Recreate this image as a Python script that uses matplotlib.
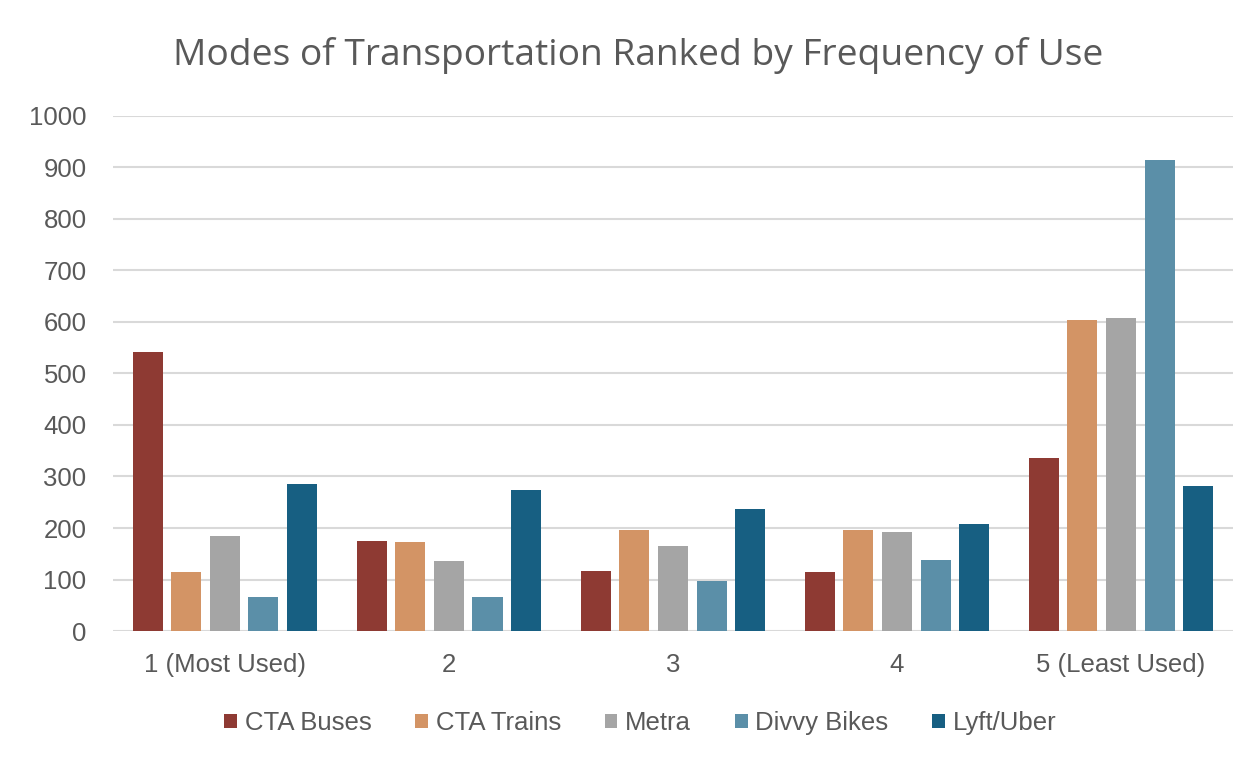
import matplotlib.pyplot as plt
import numpy as np

categories = ["1 (Most Used)", "2", "3", "4", "5 (Least Used)"]
series_names = ["CTA Buses", "CTA Trains", "Metra", "Divvy Bikes", "Lyft/Uber"]
cta_buses = [542, 175, 117, 115, 336]
cta_trains = [114, 173, 196, 197, 604]
metra = [184, 135, 165, 192, 607]
divvy_bikes = [67, 67, 97, 138, 915]
lyft_uber = [286, 274, 236, 208, 281]
colors = ["#8E3A33", "#D39465", "#A5A5A5", "#5B8FA8", "#175F82"]

values = [cta_buses, cta_trains, metra, divvy_bikes, lyft_uber]
text_color = "#595959"

fig = plt.figure(figsize=(12.48, 7.67), dpi=100)
ax = fig.add_axes([0.0905, 0.1773, 0.8975, 0.6715])

x = np.arange(len(categories))
step = 0.172
width = 0.134
for i, (name, vals, c) in enumerate(zip(series_names, values, colors)):
    ax.bar(x + (i - 2) * step, vals, width=width, color=c, label=name, zorder=3)

ax.set_xlim(-0.5, len(categories) - 0.5)
ax.set_ylim(0, 1000)
ax.set_yticks(range(0, 1001, 100))
ax.set_xticks(x)
ax.set_xticklabels(categories)
ax.grid(axis="y", color="#D9D9D9", linewidth=1.5, zorder=0)
for s in ax.spines.values():
    s.set_visible(False)
ax.tick_params(axis="both", length=0, labelsize=18.5, labelcolor=text_color)
ax.tick_params(axis="y", pad=19)
ax.tick_params(axis="x", pad=16)
for lab in ax.get_xticklabels() + ax.get_yticklabels():
    lab.set_family("Liberation Sans")

fig.text(0.511, 0.928, "Modes of Transportation Ranked by Frequency of Use",
         ha="center", va="center", fontsize=26.7, color=text_color, family="Open Sans")

leg = fig.legend(loc="center", bbox_to_anchor=(0.513, 0.057), ncol=5, frameon=False,
                 handlelength=0.5, handleheight=0.5, handletextpad=0.3, columnspacing=1.7,
                 prop={"family": "Liberation Sans", "size": 18.5})
for t in leg.get_texts():
    t.set_color(text_color)

fig.savefig("out.png", dpi=100)
